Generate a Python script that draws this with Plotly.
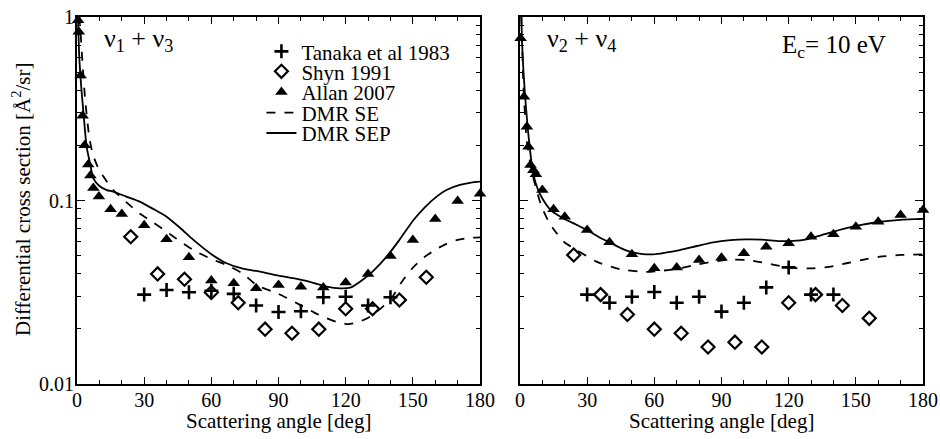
import plotly.graph_objects as go

# ---------------- data: left panel (nu1 + nu3) ----------------
tanaka_L_x = [30, 40, 50, 60, 70, 80, 90, 100, 110, 120, 130, 140]
tanaka_L_y = [0.0307, 0.0325, 0.0316, 0.0322, 0.031, 0.0268, 0.0247, 0.0249, 0.0297, 0.0299, 0.0268, 0.0297]

shyn_L_x = [24, 36, 48, 60, 72, 84, 96, 108, 120, 132, 144, 156]
shyn_L_y = [0.0635, 0.0398, 0.0372, 0.0315, 0.0277, 0.0199, 0.0189, 0.0199, 0.0257, 0.0257, 0.0287, 0.0382]

allan_L_x = [0.5, 0.8, 1.6, 2.5, 3.4, 5, 6, 7.3, 9.8, 15, 20, 30, 40, 50, 60, 70, 80, 90, 100,
             110, 120, 130, 140, 150, 160, 170, 180]
allan_L_y = [0.96, 0.83, 0.48, 0.29, 0.20, 0.157, 0.137, 0.117, 0.105, 0.0895, 0.0844, 0.0732, 0.0614,
             0.049, 0.0366, 0.0354, 0.0332, 0.0346, 0.0339, 0.0336, 0.0357, 0.0398, 0.0499, 0.061,
             0.0793, 0.0994, 0.109]

se_L_x = [0, 1.0, 1.6, 2.5, 3.6, 5.5, 7, 9, 11.8, 16.2, 22, 28, 34, 40, 46, 52, 60, 66.8, 74, 80.2,
          90, 99.6, 106, 111.5, 116, 121.2, 126, 130.9, 136, 141, 145, 150, 155, 160, 165, 170, 175, 180]
se_L_y = [2.0, 1.05, 0.82, 0.55, 0.36, 0.22, 0.18, 0.155, 0.135, 0.114, 0.098, 0.085, 0.076, 0.0676,
          0.06, 0.0537, 0.048, 0.0445, 0.04, 0.0346, 0.031, 0.027, 0.0245, 0.0228, 0.0218, 0.0212,
          0.0218, 0.0233, 0.026, 0.03, 0.036, 0.043, 0.049, 0.054, 0.058, 0.061, 0.0625, 0.063]

sep_L_x = [0, 0.5, 1.0, 2.0, 2.8, 4.3, 5.8, 7.3, 10, 13.3, 16.2, 22, 28, 34, 40, 46, 52, 60, 66.8,
           74, 81.7, 90, 96.6, 104, 111.5, 117.5, 122, 126.4, 132, 138.3, 144, 150.2, 155, 160.6,
           165, 171, 176, 180]
sep_L_y = [1.4, 0.95, 0.61, 0.40, 0.31, 0.196, 0.16, 0.132, 0.12, 0.114, 0.1117, 0.105, 0.0986, 0.09,
           0.0816, 0.071, 0.061, 0.051, 0.0455, 0.0425, 0.041, 0.039, 0.0377, 0.036, 0.0339, 0.0332,
           0.0335, 0.0361, 0.041, 0.0494, 0.061, 0.078, 0.091, 0.105, 0.114, 0.1215, 0.125, 0.1266]

# ---------------- data: right panel (nu2 + nu4) ----------------
tanaka_R_x = [30, 40, 50, 60, 70, 80, 90, 100, 110, 120, 130, 140]
tanaka_R_y = [0.0307, 0.0277, 0.0299, 0.0317, 0.0277, 0.0299, 0.0248, 0.0277, 0.0336, 0.0432, 0.0307, 0.0307]

shyn_R_x = [24, 36, 48, 60, 72, 84, 96, 108, 120, 132, 144, 156]
shyn_R_y = [0.0505, 0.0307, 0.0239, 0.0199, 0.0189, 0.0159, 0.0169, 0.0159, 0.0277, 0.0307, 0.0268, 0.0228]

allan_R_x = [0.3, 1.8, 3.1, 3.8, 4.7, 6.0, 7.1, 10, 15, 20, 30, 40, 50, 60, 70, 80, 90, 100, 110,
             120, 130, 140, 150, 160, 170, 180]
allan_R_y = [0.765, 0.368, 0.252, 0.196, 0.156, 0.146, 0.139, 0.114, 0.0895, 0.0816, 0.069, 0.0592,
             0.0509, 0.0427, 0.0432, 0.0474, 0.0488, 0.0516, 0.056, 0.0584, 0.0635, 0.0655, 0.072,
             0.0766, 0.0834, 0.0888]

se_R_x = [0, 1.5, 3, 5, 7.4, 9.7, 13, 16.4, 20, 25.3, 34.2, 44.6, 56.5, 64, 71.4, 80, 86.3, 93,
          101.2, 108, 116, 123, 130.9, 138, 145.8, 153, 160.7, 170, 180]
se_R_y = [2.0, 0.44, 0.214, 0.15, 0.114, 0.0925, 0.076, 0.0663, 0.059, 0.0537, 0.0464, 0.0423,
          0.0408, 0.0415, 0.0427, 0.045, 0.0464, 0.0475, 0.0474, 0.046, 0.044, 0.0428, 0.0427,
          0.0435, 0.0455, 0.0475, 0.0494, 0.0505, 0.0509]

sep_R_x = [0, 1, 2.2, 4.5, 5.9, 8, 10.4, 14, 19.3, 25, 30, 35, 40.2, 45, 49, 54, 59.5, 65, 71.4,
           79, 86.3, 94, 101.2, 108, 116, 122, 128, 137, 145.8, 153, 160.7, 170, 178.5, 180]
sep_R_y = [2.0, 0.7, 0.384, 0.188, 0.1406, 0.115, 0.1006, 0.088, 0.080, 0.074, 0.069, 0.0635,
           0.0589, 0.055, 0.0526, 0.0512, 0.0509, 0.052, 0.0537, 0.0565, 0.0592, 0.0608, 0.0614,
           0.0612, 0.0601, 0.0602, 0.0614, 0.066, 0.0706, 0.0738, 0.0766, 0.0785, 0.0793, 0.0795]

x_ticks = [0, 30, 60, 90, 120, 150, 180]
y_ticks = [0.01, 0.1, 1]
y_tick_text = ["0.01", "0.1", "1"]

FONT = "Liberation Serif"
BLACK = "black"

fig = go.Figure()

LEG_FONT = dict(family=FONT, size=21, color=BLACK)
CROSS = dict(symbol="cross-thin", size=10, color=BLACK, line=dict(width=2.6, color=BLACK))
DIAM = dict(symbol="diamond-open", size=10, color=BLACK, line=dict(width=2.2, color=BLACK))
TRI = dict(symbol="triangle-up", size=11, color=BLACK)


def add_panel(xa, ya, tx, ty, sx, sy, ax, ay, sex, sey, sepx, sepy, legend):
    fig.add_trace(go.Scatter(x=sex, y=sey, mode="lines", name="DMR SE", legend="legend4",
                             line=dict(color=BLACK, width=1.8, dash="dash", shape="spline", smoothing=0.6),
                             xaxis=xa, yaxis=ya, showlegend=legend))
    fig.add_trace(go.Scatter(x=sepx, y=sepy, mode="lines", name="DMR SEP", legend="legend5",
                             line=dict(color=BLACK, width=1.8, shape="spline", smoothing=0.6),
                             xaxis=xa, yaxis=ya, showlegend=legend))
    fig.add_trace(go.Scatter(x=tx, y=ty, mode="markers", name="Tanaka et al 1983", legend="legend",
                             marker=CROSS, xaxis=xa, yaxis=ya, showlegend=legend, cliponaxis=False))
    fig.add_trace(go.Scatter(x=sx, y=sy, mode="markers", name="Shyn 1991", legend="legend2",
                             marker=DIAM, xaxis=xa, yaxis=ya, showlegend=legend, cliponaxis=False))
    fig.add_trace(go.Scatter(x=ax, y=ay, mode="markers", name="Allan 2007", legend="legend3",
                             marker=TRI, xaxis=xa, yaxis=ya, showlegend=legend, cliponaxis=False))


add_panel("x", "y", tanaka_L_x, tanaka_L_y, shyn_L_x, shyn_L_y, allan_L_x, allan_L_y,
          se_L_x, se_L_y, sep_L_x, sep_L_y, True)
add_panel("x2", "y2", tanaka_R_x, tanaka_R_y, shyn_R_x, shyn_R_y, allan_R_x, allan_R_y,
          se_R_x, se_R_y, sep_R_x, sep_R_y, False)

minor_y = [m * 10 ** e for e in (-2, -1) for m in range(2, 10)]

xaxis_common = dict(range=[0, 180], tickvals=x_ticks, ticks="inside", ticklen=7, tickwidth=1.3,
                    tickcolor=BLACK, showline=True, linecolor=BLACK, linewidth=1.8, mirror="allticks",
                    showgrid=False, zeroline=False, automargin=False, ticklabeloverflow="allow",
                    ticklabelstandoff=-3,
                    minor=dict(tickvals=[v for v in range(10, 180, 10) if v % 30], ticks="inside",
                               ticklen=4, tickwidth=1.2, tickcolor=BLACK, showgrid=False),
                    tickfont=dict(family=FONT, size=20, color=BLACK))
yaxis_common = dict(type="log", range=[-2, 0], tickvals=y_ticks, ticktext=y_tick_text, ticks="inside",
                    ticklen=8, tickwidth=1.3, tickcolor=BLACK, showline=True, linecolor=BLACK,
                    linewidth=1.8, mirror="allticks", showgrid=False, zeroline=False, automargin=False,
                    ticklabeloverflow="allow",
                    minor=dict(tickvals=minor_y, ticks="inside", ticklen=4, tickwidth=1.2,
                               tickcolor=BLACK, showgrid=False),
                    tickfont=dict(family=FONT, size=20, color=BLACK))


def leg(y):
    return dict(x=0.218, y=y, xanchor="left", yanchor="middle", bgcolor="rgba(0,0,0,0)",
                font=LEG_FONT, itemwidth=30, borderwidth=0)


fig.update_layout(
    width=940, height=439,
    margin=dict(l=77, r=17, t=17, b=55),
    paper_bgcolor="white", plot_bgcolor="white",
    font=dict(family=FONT, size=20, color=BLACK),
    xaxis=dict(domain=[0, 0.4764], anchor="y", **xaxis_common),
    xaxis2=dict(domain=[0.5236, 1], anchor="y2", **xaxis_common),
    yaxis=dict(anchor="x", ticklabelstandoff=-3, **yaxis_common),
    yaxis2=dict(anchor="x2", showticklabels=False, **yaxis_common),
    legend=leg(0.9055),
    legend2=leg(0.851),
    legend3=leg(0.795),
    legend4=leg(0.7384),
    legend5=leg(0.683),
    showlegend=True,
    annotations=[
        dict(text="ν<sub>1</sub> + ν<sub>3</sub>", x=0.029, y=0.986, xref="paper", yref="paper",
             xanchor="left", yanchor="top", showarrow=False, font=dict(family=FONT, size=26, color=BLACK)),
        dict(text="ν<sub>2</sub> + ν<sub>4</sub>", x=0.553, y=0.986, xref="paper", yref="paper",
             xanchor="left", yanchor="top", showarrow=False, font=dict(family=FONT, size=26, color=BLACK)),
        dict(text="E<sub>c</sub>= 10 eV", x=0.9587, y=0.966, xref="paper", yref="paper",
             xanchor="right", yanchor="top", showarrow=False, font=dict(family=FONT, size=25, color=BLACK)),
        dict(text="Scattering angle [deg]", x=0.2376, y=-0.1, xref="paper", yref="paper",
             xanchor="center", yanchor="middle", showarrow=False, font=dict(family=FONT, size=21, color=BLACK)),
        dict(text="Scattering angle [deg]", x=0.7624, y=-0.1, xref="paper", yref="paper",
             xanchor="center", yanchor="middle", showarrow=False, font=dict(family=FONT, size=21, color=BLACK)),
        dict(text="Differential cross section [Å<sup>2</sup>/sr]", x=-0.065, y=0.5014,
             xref="paper", yref="paper", xanchor="center", yanchor="middle", textangle=-90,
             showarrow=False, font=dict(family=FONT, size=21, color=BLACK)),
    ],
)

# remove the default 8px page margin so the 940x439 figure fills the window exactly
fig.write_html("out.html", config={"displayModeBar": False},
               post_script="document.body.style.margin='0px';")
